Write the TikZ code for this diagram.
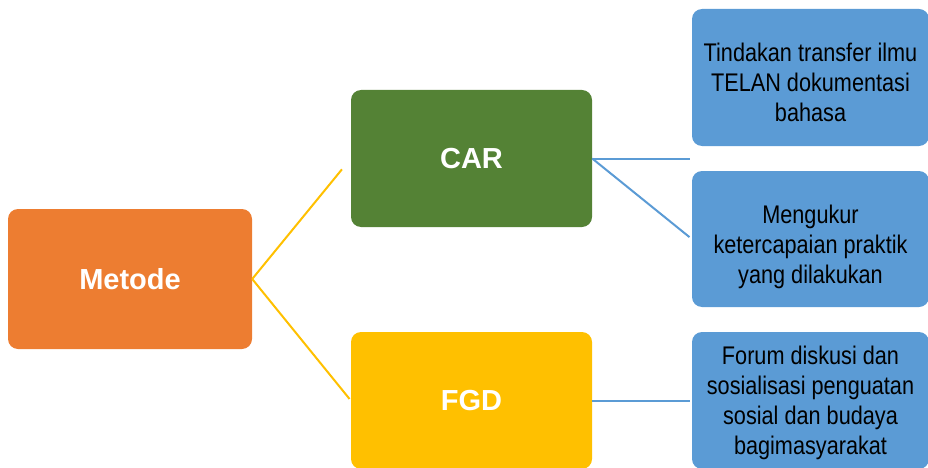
\documentclass[tikz,border=0pt]{standalone}
\usepackage{fontspec}
\setmainfont{Liberation Sans}
\newfontfamily\estrecha[FakeStretch=0.85]{Liberation Sans}

% Colores de las cajas y de las ramas
\definecolor{naranja}{HTML}{ED7D31}
\definecolor{verde}{HTML}{548235}
\definecolor{oro}{HTML}{FFC000}
\definecolor{azul}{HTML}{5B9BD5}

% Puntal invisible para bajar un poco el texto de una caja
\newcommand{\puntal}[1]{\rule{0pt}{#1}}

\begin{document}
\begin{tikzpicture}[x=1pt,y=-1pt,
    caja/.style={rounded corners=10pt, inner sep=0pt, align=center},
    principal/.style={caja, minimum width=241pt, minimum height=137pt,
        text=white, font=\fontsize{29}{30}\selectfont\bfseries},
    detalle/.style={caja, fill=azul, minimum width=237pt, minimum height=137pt,
        text=black, font={\estrecha\fontsize{25.5}{30}\selectfont}},
    rama/.style={line width=2pt}]

        % Área de dibujo (en píxeles de la imagen, y hacia abajo)
        \clip (0,0) rectangle (928,468);

        % Caja raíz a la izquierda
        \node[principal, fill=naranja, minimum width=244pt, minimum height=140pt]
            (metode) at (130,279) {Metode};

        % Las dos cajas del medio
        \node[principal, fill=verde] (car) at (471.5,158.5) {CAR};
        \node[principal, fill=oro] (fgd) at (471.5,400.5) {FGD};

        % Cajas azules de la derecha (la última se corta abajo)
        \node[detalle] (tindakan) at (810.5,77.5)
            {\puntal{28pt}Tindakan transfer ilmu\\TELAN dokumentasi\\bahasa};
        \node[detalle, minimum height=136pt] (mengukur) at (810.5,239)
            {\puntal{34pt}Mengukur\\ketercapaian praktik\\yang dilakukan};
        \node[detalle] (forum) at (810.5,400.5)
            {\puntal{23pt}Forum diskusi dan\\sosialisasi penguatan\\sosial dan budaya\\bagimasyarakat};

        % Punto libre donde termina la rama horizontal de CAR
        \coordinate (hueco) at (690,158.5);

        % Ramas amarillas desde Metode
        \draw[rama, oro, shorten >=14pt] (metode.east) -- (car.west);
        \draw[rama, oro, shorten >=2pt] (metode.east) -- (fgd.west);

        % Ramas azules hacia las cajas de la derecha
        \draw[rama, azul] (car.east) -- (hueco);
        \draw[rama, azul, shorten >=3pt] (car.east) -- (mengukur.west);
        \draw[rama, azul, shorten >=2pt] (fgd.east) -- (forum.west);

    \end{tikzpicture}
\end{document}
